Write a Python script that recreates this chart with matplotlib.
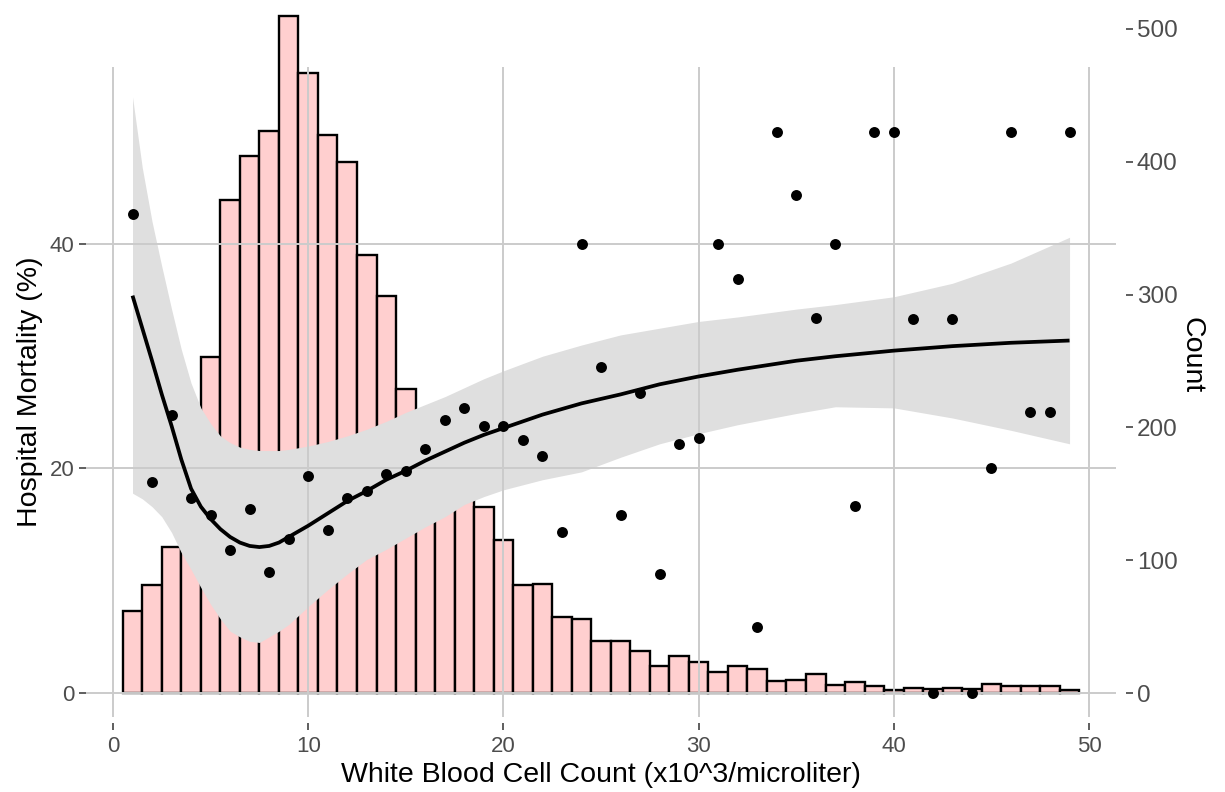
import numpy as np
import matplotlib
matplotlib.use("Agg")
import matplotlib.pyplot as plt

plt.rcParams['font.family'] = ['Liberation Sans', 'DejaVu Sans']

# ---- histogram of WBC counts (bin centers 1..49, width 1) ----
bin_centers = list(range(1, 50))
counts = [62, 81, 110, 170, 253, 371, 404, 423, 510, 467,
          420, 400, 330, 299, 229, 205, 180, 160, 140, 115,
          81, 82, 57, 56, 39, 39, 32, 20, 28, 23,
          16, 20, 18, 9, 10, 14, 6, 8, 5, 2,
          4, 3, 4, 3, 7, 5, 5, 5, 2]

# ---- observed hospital mortality (%) per WBC value ----
wbc = list(range(1, 50))
mortality = [42.7, 18.8, 24.8, 17.4, 15.9, 12.7, 16.4, 10.8, 13.7, 19.3,
             14.5, 17.4, 18.0, 19.5, 19.8, 21.7, 24.3, 25.4, 23.8, 23.8,
             22.5, 21.1, 14.3, 40.0, 29.0, 15.9, 26.7, 10.6, 22.2, 22.7,
             40.0, 36.9, 5.9, 50.0, 44.4, 33.4, 40.0, 16.7, 50.0, 50.0,
             33.3, 0.0, 33.3, 0.0, 20.0, 50.0, 25.0, 25.0, 50.0]

# ---- smoothed fit and its confidence band ----
fit_x = [1, 1.5, 2, 2.5, 3, 3.5, 4, 4.5, 5, 5.5, 6, 6.5, 7, 7.5, 8, 8.5, 9,
         10, 11, 12, 13, 14, 15, 16, 17, 18, 19, 20, 22, 24, 26, 28, 30,
         32, 35, 37, 40, 43, 46, 49]
fit_y = [35.4, 32.5, 29.6, 26.6, 23.8, 20.8, 18.2, 16.6, 15.5, 14.6, 13.9,
         13.4, 13.1, 13.0, 13.1, 13.4, 13.9, 14.9, 16.0, 17.1, 18.0, 19.0,
         19.8, 20.7, 21.5, 22.3, 23.0, 23.6, 24.8, 25.8, 26.6, 27.5, 28.2,
         28.8, 29.6, 30.0, 30.5, 30.9, 31.2, 31.4]
fit_upper = [53.1, 46.8, 42.0, 38.0, 34.2, 30.6, 27.6, 25.4, 24.0, 22.9, 22.3,
             21.9, 21.7, 21.6, 21.6, 21.6, 21.7, 22.0, 22.4, 22.9, 23.5, 24.2,
             25.0, 25.7, 26.4, 27.2, 28.0, 28.7, 30.0, 31.0, 31.9, 32.5, 33.1,
             33.5, 34.2, 34.6, 35.3, 36.5, 38.3, 40.6]
fit_lower = [17.8, 17.3, 16.6, 15.7, 14.3, 12.5, 11.0, 9.4, 7.9, 6.6, 5.5,
             5.0, 4.6, 4.5, 5.0, 5.5, 6.1, 7.7, 9.2, 10.6, 11.9, 12.8,
             13.8, 14.8, 15.7, 16.8, 17.5, 18.1, 19.0, 19.7, 21.0, 22.2, 23.1,
             23.9, 24.9, 25.5, 25.4, 24.5, 23.4, 22.2]

x_ticks = [0, 10, 20, 30, 40, 50]
y_ticks = [0, 20, 40]
count_ticks = [0, 100, 200, 300, 400, 500]

W, H = 1225, 792
fig = plt.figure(figsize=(W / 100, H / 100), dpi=100)
fig.patch.set_facecolor('white')

left_px, right_px, top_px, bot_px = 86, 1116, 67, 717

def rect(l, r, t, b):
    return [l / W, 1 - b / H, (r - l) / W, (b - t) / H]

grid_c = '#CBCBCB'
tick_c = '#333333'
lab_c = '#4D4D4D'

# histogram axes (behind)
hx = fig.add_axes(rect(left_px, right_px, 0, bot_px), zorder=0)
hx.set_xlim(-1.383, 51.38)
hx.set_ylim(-18.07, 521.8)
hx.bar(bin_centers, counts, width=1.0, color='#FFCFCF', edgecolor='black',
       linewidth=1.7, zorder=1)
hx.patch.set_visible(False)
for s in ['top', 'left', 'bottom', 'right']:
    hx.spines[s].set_visible(False)
hx.spines['right'].set_position(('outward', 7.5))
hx.yaxis.tick_right()
hx.set_yticks(count_ticks)
hx.tick_params(axis='y', right=True, length=5, width=1.1, color=tick_c,
               labelcolor=lab_c, labelsize=17.5, pad=2.5)
hx.set_xticks([])

# main axes (mortality)
ax = fig.add_axes(rect(left_px, right_px, top_px, bot_px), zorder=1)
ax.patch.set_visible(False)
ax.set_xlim(-1.383, 51.38)
ax.set_ylim(-2.14, 55.77)
ax.set_axisbelow(False)
ax.fill_between(fit_x, fit_lower, fit_upper, color='#DFDFDF', linewidth=0,
                zorder=1)
ax.plot(fit_x, fit_y, color='black', linewidth=2.7, zorder=3,
        solid_capstyle='butt', solid_joinstyle='round')
ax.scatter(wbc, mortality, s=62, color='black', zorder=4, clip_on=False,
           linewidths=0)
ax.set_xticks(x_ticks)
ax.set_yticks(y_ticks)
ax.grid(True, color=grid_c, linewidth=1.4)
for s in ['top', 'right', 'left', 'bottom']:
    ax.spines[s].set_visible(False)
ax.spines['bottom'].set_position(('outward', 4))
ax.tick_params(axis='both', length=5, width=1.1, color=tick_c,
               labelcolor=lab_c, labelsize=16)
ax.tick_params(axis='x', pad=5)
ax.tick_params(axis='y', pad=3.5)

fig.text(601 / W, 1 - 775 / H, 'White Blood Cell Count (x10^3/microliter)',
         ha='center', va='center', fontsize=20.5, color='black')
fig.text(30 / W, 1 - 392 / H, 'Hospital Mortality (%)', rotation=90,
         ha='center', va='center', fontsize=20.5, color='black')
fig.text(1192 / W, 1 - 355 / H, 'Count', rotation=270,
         ha='center', va='center', fontsize=20.5, color='black')

fig.savefig('out.png', dpi=100, facecolor='white')
